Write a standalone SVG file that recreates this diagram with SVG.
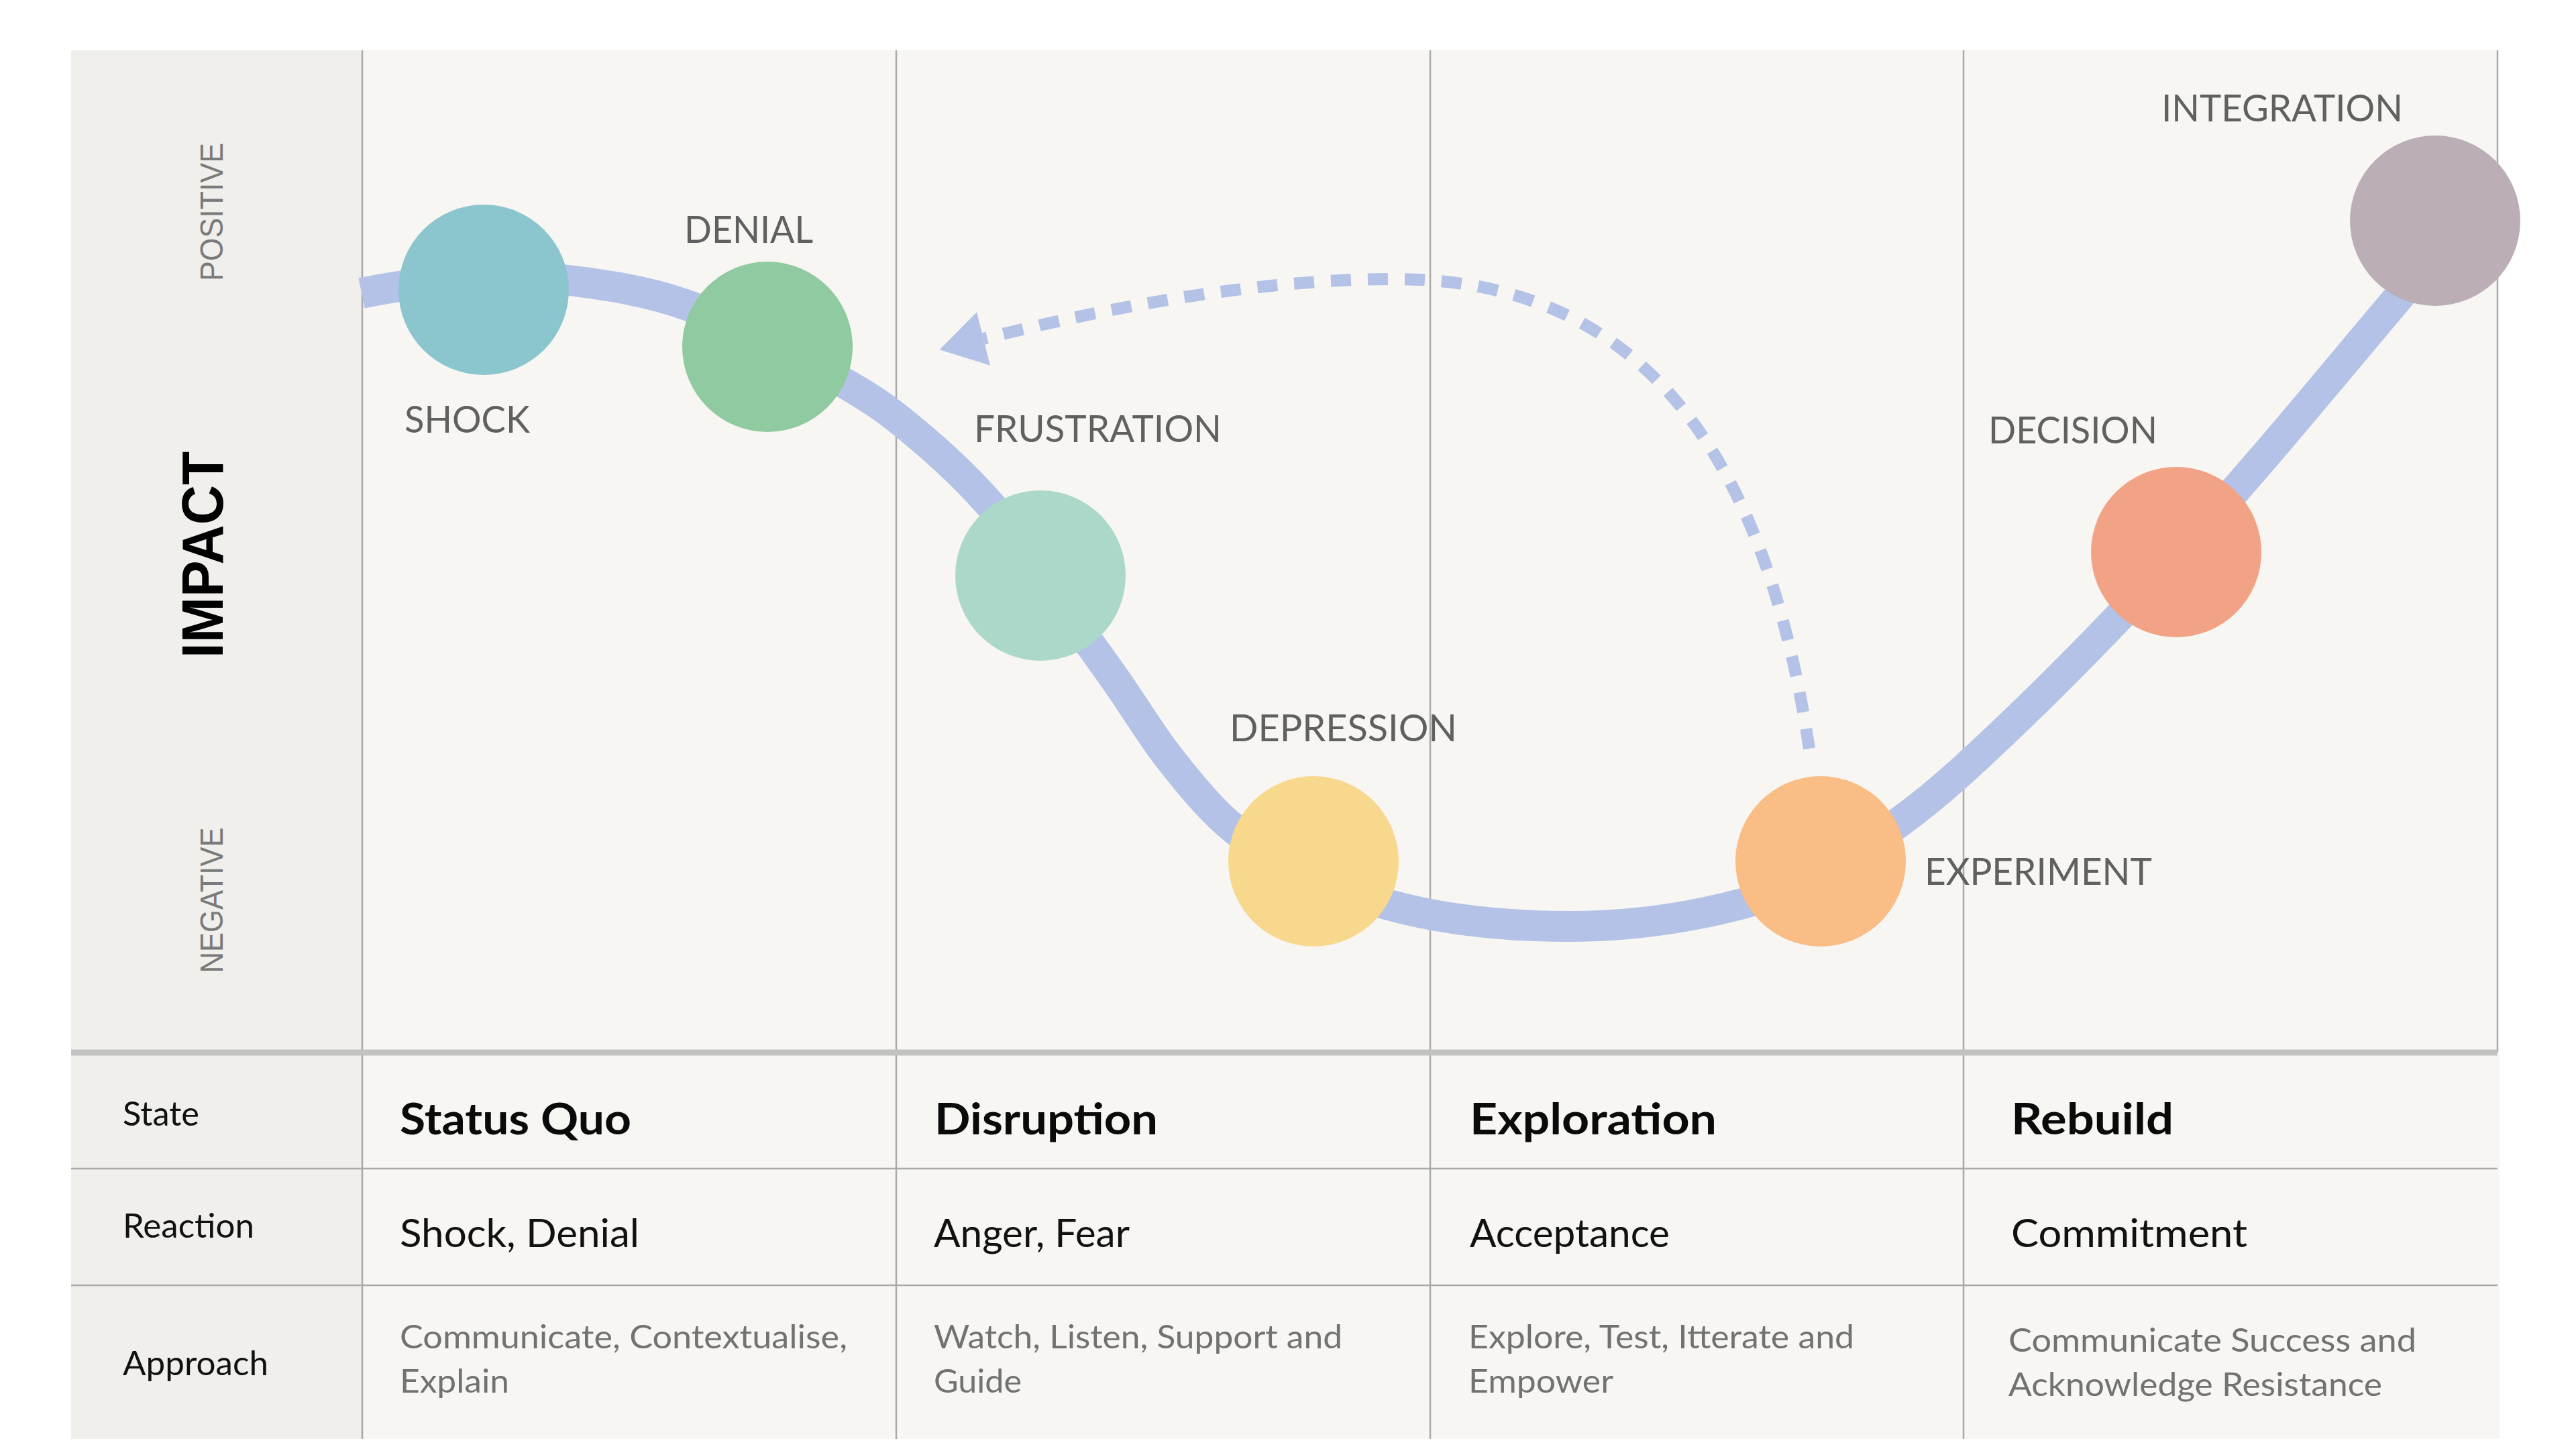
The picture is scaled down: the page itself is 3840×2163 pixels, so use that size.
<svg xmlns="http://www.w3.org/2000/svg" width="3840" height="2163" viewBox="0 0 3840 2163">
<defs>
<style>
.bg{fill:#f7f6f3}
.bgl{fill:#f0efec}
.grid{stroke:#a9a9a9;stroke-width:2.5;fill:none}
.sep{stroke:#c2c2c0;stroke-width:9;fill:none}
.lbl{font-family:Lato,"Noto Sans",sans-serif;font-size:57px;fill:#606060}
.hdr{font-family:Lato,"Noto Sans",sans-serif;font-size:50px;fill:#111}
.state{font-family:Lato,"Noto Sans",sans-serif;font-weight:700;font-size:65px;fill:#0a0a0a}
.react{font-family:Lato,"Noto Sans",sans-serif;font-size:58px;fill:#111}
.appr{font-family:Lato,"Noto Sans",sans-serif;font-size:49px;fill:#727272}
.axis{font-family:"Liberation Sans",Arial,sans-serif;font-size:48px;fill:#7a7a7a}
.impact{font-family:"Liberation Sans",Arial,sans-serif;font-weight:700;font-size:88px;fill:#000}
.curve{fill:none;stroke:#b3c2e6;stroke-width:46;stroke-linecap:butt}
.dash{fill:none;stroke:#b3c2e6;stroke-width:18;stroke-dasharray:30 25}
</style>
<marker id="ah" markerUnits="userSpaceOnUse" markerWidth="80" markerHeight="90" refX="0" refY="0" viewBox="-2 -40 70 80" orient="auto" overflow="visible">
<path d="M0,-36.5 L60,0 L0,36.5 Z" fill="#b3c2e6"/>
</marker>
</defs>
<rect x="0" y="0" width="3840" height="2163" fill="#ffffff"/>
<g id="panel">
<rect class="bg" x="106" y="75" width="3617" height="1494"/>
<rect class="bgl" x="106" y="75" width="434" height="1494"/>
<rect class="bg" x="106" y="1573" width="3620" height="572"/>
<rect class="bgl" x="106" y="1573" width="434" height="572"/>
<line class="grid" x1="540" y1="75" x2="540" y2="2145"/>
<line class="grid" x1="1336" y1="75" x2="1336" y2="2145"/>
<line class="grid" x1="2132" y1="75" x2="2132" y2="2145"/>
<line class="grid" x1="2927" y1="75" x2="2927" y2="2145"/>
<line class="grid" x1="3723" y1="75" x2="3723" y2="1569"/>
<line class="grid" x1="106" y1="1742" x2="3723" y2="1742"/>
<line class="grid" x1="106" y1="1916" x2="3723" y2="1916"/>
<line class="sep" x1="106" y1="1569" x2="3723" y2="1569"/>
</g>
<g id="axis">
<text class="axis" transform="translate(332,316) rotate(-90)" text-anchor="middle" textLength="206" lengthAdjust="spacingAndGlyphs">POSITIVE</text>
<text class="impact" transform="translate(332,827) rotate(-90)" text-anchor="middle" textLength="308" lengthAdjust="spacingAndGlyphs">IMPACT</text>
<text class="axis" transform="translate(332,1342) rotate(-90)" text-anchor="middle" textLength="217" lengthAdjust="spacingAndGlyphs">NEGATIVE</text>
</g>
<g id="connectors">
<path id="change-curve" class="curve" d="M539,437 C599.3,424.9 659.7,416.4 720,414 C762.7,412.3 805.3,412.9 848,418 C907.7,425.2 967.3,434.5 1027,456 C1066,470 1105,495.5 1144,515 C1183.3,534.7 1222.7,550.6 1262,573 C1286.7,587.1 1311.3,602.3 1336,622 C1384,660.4 1432,701.8 1480,757 C1503.7,784.2 1527.3,824.9 1551,858 C1588.7,910.7 1626.3,961.5 1664,1015 C1690.3,1052.4 1716.7,1096.6 1743,1130 C1775.3,1171.1 1807.7,1210.1 1840,1236 C1879.3,1267.5 1918.7,1280.7 1958,1300 C1994.3,1317.8 2030.7,1337.8 2067,1348 C2158,1373.5 2249,1381 2340,1381 C2424.7,1381 2509.3,1370 2594,1348 C2634,1337.6 2674,1320.8 2714,1300 C2752,1280.2 2790,1255.4 2828,1228 C2860.7,1204.5 2893.3,1177.7 2926,1148 C3032,1051.5 3138,943.5 3244,829 C3371,691.8 3498,533 3625,385"/>
<path id="loop-back" class="dash" marker-end="url(#ah)" d="M2697,1116 C2634,696 2460,416 2080,416 C1880,416 1666,455 1466,505"/>
</g>
<g id="node-shock">
<circle cx="721" cy="432" r="127" fill="#8bc5cd"/>
<text class="lbl" x="603" y="645" textLength="187" lengthAdjust="spacingAndGlyphs">SHOCK</text>
</g>
<g id="node-denial">
<circle cx="1144" cy="517" r="127" fill="#8fcaa0"/>
<text class="lbl" x="1020" y="362" textLength="192" lengthAdjust="spacingAndGlyphs">DENIAL</text>
</g>
<g id="node-frustration">
<circle cx="1551" cy="858" r="127" fill="#abd8c8"/>
<text class="lbl" x="1452" y="659" textLength="369" lengthAdjust="spacingAndGlyphs">FRUSTRATION</text>
</g>
<g id="node-depression">
<circle cx="1958" cy="1284" r="127" fill="#f8d88c"/>
<text class="lbl" x="1833" y="1105" textLength="339" lengthAdjust="spacingAndGlyphs">DEPRESSION</text>
</g>
<g id="node-experiment">
<circle cx="2714" cy="1284" r="127" fill="#f9bd85"/>
<text class="lbl" x="2869" y="1319" textLength="339" lengthAdjust="spacingAndGlyphs">EXPERIMENT</text>
</g>
<g id="node-decision">
<circle cx="3244" cy="823" r="127" fill="#f2a386"/>
<text class="lbl" x="2964" y="661" textLength="252" lengthAdjust="spacingAndGlyphs">DECISION</text>
</g>
<g id="node-integration">
<circle cx="3630" cy="329" r="127" fill="#bbaeb7"/>
<text class="lbl" x="3222" y="181" textLength="360" lengthAdjust="spacingAndGlyphs">INTEGRATION</text>
</g>
<g id="table">
<text class="hdr" x="183" y="1678" textLength="114" lengthAdjust="spacingAndGlyphs">State</text>
<text class="hdr" x="183" y="1845" textLength="196" lengthAdjust="spacingAndGlyphs">Reaction</text>
<text class="hdr" x="183" y="2050" textLength="217" lengthAdjust="spacingAndGlyphs">Approach</text>
<text class="state" x="596" y="1691" textLength="345" lengthAdjust="spacingAndGlyphs">Status Quo</text>
<text class="state" x="1393" y="1691" textLength="333" lengthAdjust="spacingAndGlyphs">Disruption</text>
<text class="state" x="2191" y="1691" textLength="368" lengthAdjust="spacingAndGlyphs">Exploration</text>
<text class="state" x="2998" y="1691" textLength="242" lengthAdjust="spacingAndGlyphs">Rebuild</text>
<text class="react" x="596" y="1859" textLength="357" lengthAdjust="spacingAndGlyphs">Shock, Denial</text>
<text class="react" x="1392" y="1859" textLength="292" lengthAdjust="spacingAndGlyphs">Anger, Fear</text>
<text class="react" x="2191" y="1859" textLength="298" lengthAdjust="spacingAndGlyphs">Acceptance</text>
<text class="react" x="2998" y="1859" textLength="352" lengthAdjust="spacingAndGlyphs">Commitment</text>
<text class="appr" x="596" y="2010" textLength="667" lengthAdjust="spacingAndGlyphs">Communicate, Contextualise,</text>
<text class="appr" x="596" y="2076" textLength="163" lengthAdjust="spacingAndGlyphs">Explain</text>
<text class="appr" x="1392" y="2010" textLength="609" lengthAdjust="spacingAndGlyphs">Watch, Listen, Support and</text>
<text class="appr" x="1392" y="2076" textLength="131" lengthAdjust="spacingAndGlyphs">Guide</text>
<text class="appr" x="2189" y="2010" textLength="575" lengthAdjust="spacingAndGlyphs">Explore, Test, Itterate and</text>
<text class="appr" x="2189" y="2076" textLength="216" lengthAdjust="spacingAndGlyphs">Empower</text>
<text class="appr" x="2994" y="2015" textLength="608" lengthAdjust="spacingAndGlyphs">Communicate Success and</text>
<text class="appr" x="2994" y="2081" textLength="557" lengthAdjust="spacingAndGlyphs">Acknowledge Resistance</text>
</g>
</svg>
